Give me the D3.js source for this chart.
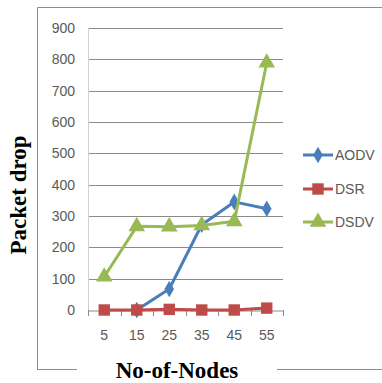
<!DOCTYPE html>
<html><head><meta charset="utf-8">
<script src="https://cdn.jsdelivr.net/npm/d3@7"></script>
<style>body{margin:0;background:#fff}svg{display:block}</style>
</head><body>
<svg id="c" width="382" height="383"></svg>
<script>
const categories = ["5","15","25","35","45","55"];
const aodv = [null, 0, 67, 272, 345, 323];
const dsr = [0, 0, 2, 0, 0, 6];
const dsdv = [106, 267, 266, 270, 283, 789];
const yTicks = [0,100,200,300,400,500,600,700,800,900];
const seriesNames = ["AODV","DSR","DSDV"];
const seriesColors = ["#4A7EBB","#BE4B48","#98B954"];
const seriesShapes = [d3.symbolDiamond, d3.symbolSquare, d3.symbolTriangle];
const seriesValues = [aodv, dsr, dsdv];

const svg = d3.select("#c");
const x = d3.scaleBand().domain(categories).range([88, 283]);
const y = d3.scaleLinear().domain([0, 900]).range([310, 28]);
const tickFont = "'Liberation Sans', Arial, sans-serif";
const tickSize = 14;

// outer border
const b = svg.append("g").attr("stroke","#8c8c8c").attr("stroke-width",1).attr("fill","none");
b.append("path").attr("d","M37.5,370 V7.5 H382");
b.append("path").attr("d","M37,369.5 H77 M277,369.5 H382");

// gridlines
svg.append("g").selectAll("line").data(yTicks.filter(d=>d>0)).join("line")
  .attr("x1",88).attr("x2",283)
  .attr("y1",d=>Math.round(y(d))+0.5).attr("y2",d=>Math.round(y(d))+0.5)
  .attr("stroke","#8a8a8a").attr("stroke-width",1);
svg.append("line").attr("x1",88.5).attr("x2",88.5).attr("y1",y(900)).attr("y2",y(0))
  .attr("stroke","#d0d0d0");

// y axis labels
const yAxis = d3.axisLeft(y).tickValues(yTicks).tickSize(0).tickPadding(13);
const yg = svg.append("g").attr("transform","translate(88,0)").call(yAxis);
yg.select(".domain").remove();
yg.selectAll("text").attr("font-family",tickFont).attr("font-size",tickSize).attr("fill","#595959");

// x axis
const xAxis = d3.axisBottom(x).tickSize(0).tickPadding(20);
const xg = svg.append("g").attr("transform","translate(0,310.5)").call(xAxis);
xg.select(".domain").attr("stroke","#8a8a8a");
xg.selectAll("text").attr("font-family",tickFont).attr("font-size",tickSize).attr("fill","#595959");
const bounds = categories.map(c=>x(c)).concat([x.range()[1]]);
svg.append("g").selectAll("line").data(bounds).join("line")
  .attr("x1",d=>Math.round(d)+0.5).attr("x2",d=>Math.round(d)+0.5)
  .attr("y1",310).attr("y2",316).attr("stroke","#8a8a8a");

// series
const line = d3.line().defined(d=>d!==null)
  .x((d,i)=>x(categories[i])+x.bandwidth()/2).y(d=>y(d));
const sizes = [80, 130, 120];
seriesValues.forEach((vals,si)=>{
  const g = svg.append("g");
  g.append("path").attr("d",line(vals)).attr("fill","none")
    .attr("stroke",seriesColors[si]).attr("stroke-width",3).attr("stroke-linejoin","round");
  g.selectAll("path.m").data(vals.map((v,i)=>({v,i})).filter(d=>d.v!==null)).join("path").attr("class","m")
    .attr("transform",d=>`translate(${x(categories[d.i])+x.bandwidth()/2},${y(d.v)})`)
    .attr("d",d3.symbol().type(seriesShapes[si]).size(sizes[si]))
    .attr("fill",seriesColors[si]);
});

// legend
const legY = [155, 189, 222];
seriesNames.forEach((n,i)=>{
  const g = svg.append("g").attr("transform",`translate(0,${legY[i]})`);
  g.append("line").attr("x1",303).attr("x2",333).attr("y1",0).attr("y2",0)
    .attr("stroke",seriesColors[i]).attr("stroke-width",3);
  g.append("path").attr("transform","translate(318,0)")
    .attr("d",d3.symbol().type(seriesShapes[i]).size(sizes[i])).attr("fill",seriesColors[i]);
  g.append("text").attr("x",335).attr("y",5).text(n)
    .attr("font-family",tickFont).attr("font-size",tickSize).attr("fill","#595959");
});

// axis titles
svg.append("text").attr("transform","translate(26,195) rotate(-90)")
  .attr("text-anchor","middle").attr("font-family","'Liberation Serif','Times New Roman',serif")
  .attr("font-weight","bold").attr("font-size",23).text("Packet drop");
svg.append("text").attr("x",177).attr("y",378)
  .attr("text-anchor","middle").attr("font-family","'Liberation Serif','Times New Roman',serif")
  .attr("font-weight","bold").attr("font-size",23).text("No-of-Nodes");
</script>
</body></html>
